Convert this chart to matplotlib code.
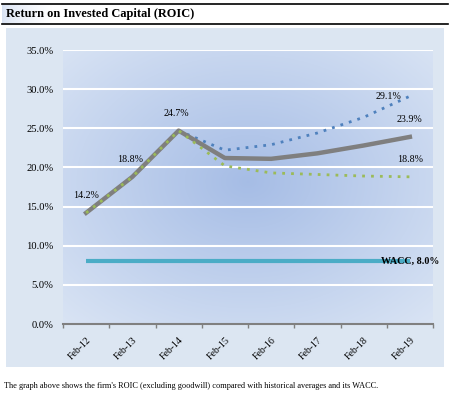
import numpy as np
import matplotlib
matplotlib.use("Agg")
import matplotlib.pyplot as plt
from matplotlib.lines import Line2D

categories = ["Feb-12", "Feb-13", "Feb-14", "Feb-15", "Feb-16", "Feb-17", "Feb-18", "Feb-19"]
roic = [14.2, 18.8, 24.7, 21.2, 21.1, 21.8, 22.8, 23.9]
upper_avg = [None, None, 24.7, 22.2, 22.9, 24.4, 26.4, 29.1]
lower_avg = [14.2, 18.8, 24.7, 20.2, 19.3, 19.1, 18.9, 18.8]
wacc = [8.0] * 8
yticks = [0, 5, 10, 15, 20, 25, 30, 35]

W, H = 450, 393
fig = plt.figure(figsize=(W / 100, H / 100), dpi=100)
fig.patch.set_facecolor("white")
serif = ["Liberation Serif", "DejaVu Serif"]

def fx(px):
    return px / W

def fy(py):
    return 1 - py / H

# header lines and title
fig.add_artist(Line2D([fx(2), fx(448)], [fy(4), fy(4)], color="black", lw=1.2))
fig.add_artist(Line2D([fx(2), fx(448)], [fy(24), fy(24)], color="black", lw=1.2))
# subtle left gradient behind title
gax = fig.add_axes([fx(2), fy(23), fx(50), (23 - 5) / H])
grad = np.linspace(0, 1, 100).reshape(1, -1) ** 0.6
c0 = np.array([0.84, 0.88, 0.95])
c1 = np.array([1.0, 1.0, 1.0])
img = c0[None, None, :] * (1 - grad[..., None]) + c1[None, None, :] * grad[..., None]
gax.imshow(img, aspect="auto", extent=[0, 1, 0, 1])
gax.axis("off")
fig.text(fx(6), fy(14), "Return on Invested Capital (ROIC)", fontsize=8.9,
         fontweight="bold", family=serif, va="center", ha="left")

# panel
pax = fig.add_axes([fx(6), fy(367), fx(438), (367 - 28) / H])
pax.set_facecolor("#dce6f2")
pax.set_xticks([]); pax.set_yticks([])
for s in pax.spines.values():
    s.set_visible(False)

# main axes
left, right, top, bottom = 63, 433, 50, 324
ax = fig.add_axes([fx(left), fy(bottom), (right - left) / W, (bottom - top) / H])
ax.set_facecolor("none")

# radial gradient background
ny, nx = 200, 300
xx, yy = np.meshgrid(np.linspace(0, 1, nx), np.linspace(0, 1, ny))
cx, cy = 0.5, 0.52
r = np.sqrt(((xx - cx) / 0.75) ** 2 + ((yy - cy) / 0.75) ** 2)
r = np.clip(r, 0, 1)
cin = np.array([0.65, 0.74, 0.90])
cout = np.array([0.86, 0.90, 0.96])
bg = cin[None, None, :] * (1 - r[..., None]) + cout[None, None, :] * r[..., None]
ax.imshow(bg, extent=[-0.5, 7.5, 0, 35], aspect="auto", zorder=0, origin="lower")

x = np.arange(len(categories))
ax.set_xlim(-0.5, 7.5)
ax.set_ylim(0, 35)
for yv in yticks[1:]:
    ax.axhline(yv, color="white", lw=1.5, zorder=1)

ax.plot(x, wacc, color="#4bacc6", lw=3, zorder=2, solid_capstyle="butt")
ax.plot(x, roic, color="#7f7f7f", lw=3.2, zorder=3)
ux = [i for i, v in enumerate(upper_avg) if v is not None]
uy = [v for v in upper_avg if v is not None]
ax.plot(ux, uy, color="#4f81bd", lw=2, ls=(0, (1, 2.2)), zorder=2.5)
ax.plot(x, lower_avg, color="#9bbb59", lw=2, ls=(0, (1, 2.2)), zorder=4)

fs = 7.2
off = 2.2
ax.text(0, roic[0] + off, "14.2%", fontsize=fs, family=serif, ha="center", va="center")
ax.text(1 - 0.05, roic[1] + off, "18.8%", fontsize=fs, family=serif, ha="center", va="center")
ax.text(2 - 0.05, roic[2] + off, "24.7%", fontsize=fs, family=serif, ha="center", va="center")
ax.text(7 - 0.47, upper_avg[7], "29.1%", fontsize=fs, family=serif, ha="center", va="center")
ax.text(7, roic[7] + off, "23.9%", fontsize=fs, family=serif, ha="center", va="center")
ax.text(7, lower_avg[7] + off, "18.8%", fontsize=fs, family=serif, ha="center", va="center")
ax.text(7, wacc[7], "WACC, 8.0%", fontsize=7.2, family=serif, fontweight="bold",
        ha="center", va="center", zorder=5, clip_on=False)

ax.set_yticks(yticks)
ax.set_yticklabels([f"{v:.1f}%" for v in yticks], fontsize=7.6, family=serif)
ax.tick_params(axis="y", length=0, pad=7)
ax.set_xticks(x)
ax.set_xticklabels(categories, fontsize=7, family=serif, rotation=45, ha="right",
                   rotation_mode="anchor")
ax.set_xticks(np.arange(-0.5, 8, 1), minor=True)
ax.tick_params(axis="x", which="major", length=0, pad=8)
ax.tick_params(axis="x", which="minor", length=3, color="#808080", width=1)
for s in ["top", "right", "left"]:
    ax.spines[s].set_visible(False)
ax.spines["bottom"].set_color("#808080")
ax.spines["bottom"].set_linewidth(1.5)
ax.spines["bottom"].set_zorder(6)

fig.text(fx(4), fy(386), "The graph above shows the firm's ROIC (excluding goodwill) compared with historical averages and its WACC.",
         fontsize=5.95, family=serif, va="center", ha="left")

fig.savefig("out.png", dpi=100)
